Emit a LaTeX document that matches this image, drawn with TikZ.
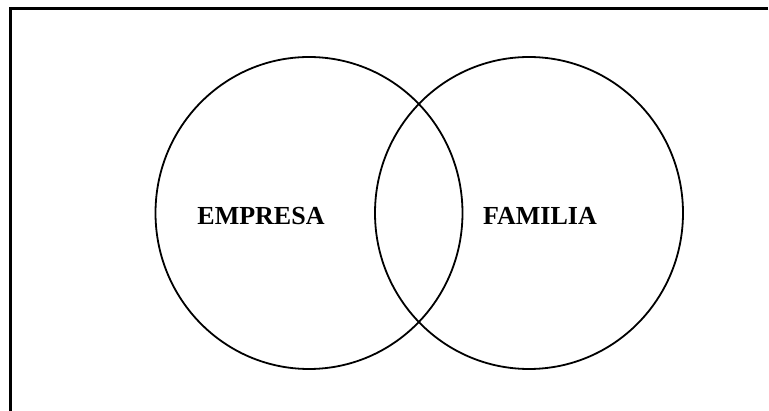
\documentclass[tikz,border=0pt]{standalone}
\usepackage{fontspec}
\setmainfont{Liberation Serif}
\begin{document}
\begin{tikzpicture}[x=1pt,y=-1pt,
  ring/.style={draw=black,line width=1.8pt},
  frameline/.style={draw=black,line width=2.2pt},
  lbl/.style={font=\bfseries\fontsize{26}{31}\selectfont,inner sep=0pt}]
\useasboundingbox (0,0) rectangle (769,411);
\coordinate (tl) at (10.5,8.5);
\coordinate (tr) at (768,8.5);
\coordinate (bl) at (10.5,411);
\draw[frameline] (tr) -- (tl) -- (bl);
\draw[ring] (309,213) ellipse [x radius=153.5, y radius=156];
\draw[ring] (529,213) ellipse [x radius=154, y radius=156];
\node[lbl] (empresa) at (261,216) {EMPRESA};
\node[lbl] (familia) at (540,216) {FAMILIA};
\end{tikzpicture}
\end{document}
